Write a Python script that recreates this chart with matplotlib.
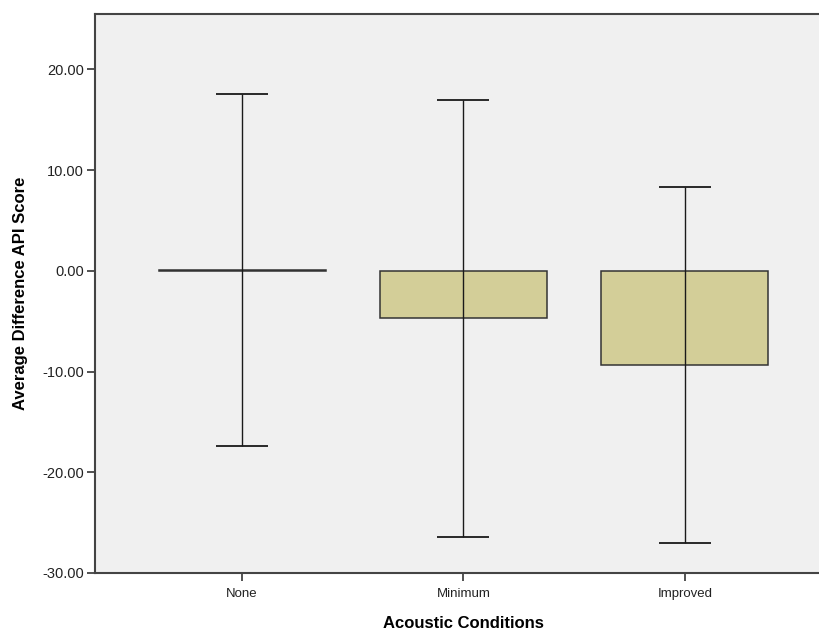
import matplotlib
matplotlib.use("Agg")
import matplotlib.pyplot as plt
import numpy as np

categories = ["None", "Minimum", "Improved"]
means = [0.04, -4.73, -9.35]
upper = [17.56, 16.97, 8.32]
lower = [-17.40, -26.47, -27.00]
yticks = [-30, -20, -10, 0, 10, 20]

plt.rcParams['font.family'] = ['Liberation Sans', 'DejaVu Sans']

fig = plt.figure(figsize=(8.2, 6.34), dpi=100)
ax = fig.add_axes([95/820, 1-573/634, 737/820, (573-14)/634])
ax.set_facecolor('#F0F0F0')

x = np.arange(len(categories))
means_a = np.array(means)
yerr = np.vstack([means_a - np.array(lower), np.array(upper) - means_a])
ax.bar(x, means, width=0.754, color='#D3CE98', edgecolor='#333333', linewidth=1.1, zorder=2)
ax.errorbar(x, means, yerr=yerr, fmt='none', ecolor='#1a1a1a', elinewidth=1.0,
            capsize=18.4, capthick=1.3, zorder=3)
ax.set_xlim(-0.664, 2.664)
ax.set_ylim(-30, 25.5)
ax.set_yticks(yticks)
ax.set_yticklabels([f"{v:.2f}" for v in yticks])
ax.set_xticks(x)
ax.set_xticklabels(categories)
ax.tick_params(axis='y', direction='out', length=6, width=1.2, color='#333333',
               labelsize=10.5, labelcolor='#222222', pad=2)
ax.tick_params(axis='x', direction='out', length=6, width=1.2, color='#333333',
               labelsize=9.5, labelcolor='#222222', pad=5)
for s in ax.spines.values():
    s.set_color('#444444')
    s.set_linewidth(1.5)
ax.set_xlabel("Acoustic Conditions", fontsize=12, fontweight='bold', labelpad=11)
ax.set_ylabel("Average Difference API Score", fontsize=12, fontweight='bold', labelpad=10)

fig.savefig("out.png", dpi=100, facecolor='white')
